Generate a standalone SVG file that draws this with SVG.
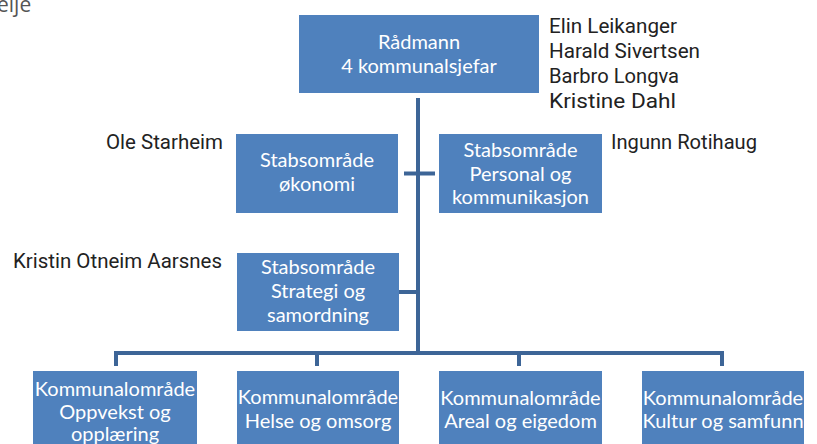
<svg xmlns="http://www.w3.org/2000/svg" width="817" height="444" viewBox="0 0 817 444">
<style>
.box{fill:#4f81bd;}
.bt{font-family:Lato,"Open Sans",sans-serif;font-size:20px;fill:#ffffff;text-anchor:middle;}
.nm{font-family:Roboto,"Liberation Sans",sans-serif;font-size:21px;fill:#222222;}
.ln{stroke:#3d6597;stroke-width:4;fill:none;}
</style>
<rect width="817" height="444" fill="#ffffff"/>
<text x="-3" y="12" style="font-family:'Open Sans',sans-serif;font-size:21px;fill:#555555;">elje</text>
<g id="connectors">
<line class="ln" x1="418" y1="98" x2="418" y2="355"/>
<line class="ln" x1="404" y1="173.5" x2="435" y2="173.5"/>
<line class="ln" x1="399" y1="292" x2="418" y2="292"/>
<polyline class="ln" points="116,366 116,353 722,353 722,366"/>
<line class="ln" x1="317" y1="353" x2="317" y2="366"/>
<line class="ln" x1="519" y1="353" x2="519" y2="366"/>
</g>
<g id="radmann">
<rect class="box" x="299" y="15" width="240" height="78"/>
<text class="bt" x="419" y="49">Rådmann</text>
<text class="bt" x="419" y="73">4 kommunalsjefar</text>
</g>
<g id="okonomi">
<rect class="box" x="236" y="134" width="162" height="79"/>
<text class="bt" x="317" y="167">Stabsområde</text>
<text class="bt" x="317" y="191">økonomi</text>
</g>
<g id="personal">
<rect class="box" x="439" y="134" width="163" height="79"/>
<text class="bt" x="520.5" y="157">Stabsområde</text>
<text class="bt" x="520.5" y="181">Personal og</text>
<text class="bt" x="520.5" y="204">kommunikasjon</text>
</g>
<g id="strategi">
<rect class="box" x="237" y="253" width="162" height="78"/>
<text class="bt" x="318" y="274">Stabsområde</text>
<text class="bt" x="318" y="298">Strategi og</text>
<text class="bt" x="318" y="322">samordning</text>
</g>
<g id="oppvekst">
<rect class="box" x="33" y="371" width="164" height="80"/>
<text class="bt" x="115" y="396">Kommunalområde</text>
<text class="bt" x="115" y="419">Oppvekst og</text>
<text class="bt" x="115" y="441">opplæring</text>
</g>
<g id="helse">
<rect class="box" x="237" y="371" width="162" height="80"/>
<text class="bt" x="318" y="404">Kommunalområde</text>
<text class="bt" x="318" y="428">Helse og omsorg</text>
</g>
<g id="areal">
<rect class="box" x="439" y="371" width="163" height="80"/>
<text class="bt" x="520.5" y="405">Kommunalområde</text>
<text class="bt" x="520.5" y="428">Areal og eigedom</text>
</g>
<g id="kultur">
<rect class="box" x="642" y="371" width="162" height="80"/>
<text class="bt" x="723" y="405">Kommunalområde</text>
<text class="bt" x="723" y="428">Kultur og samfunn</text>
</g>
<g id="names">
<text class="nm" x="549" y="33" textLength="128" lengthAdjust="spacingAndGlyphs">Elin Leikanger</text>
<text class="nm" x="549" y="58" textLength="151" lengthAdjust="spacingAndGlyphs">Harald Sivertsen</text>
<text class="nm" x="549" y="83" textLength="130" lengthAdjust="spacingAndGlyphs">Barbro Longva</text>
<text class="nm" x="549" y="108" textLength="127" lengthAdjust="spacingAndGlyphs">Kristine Dahl</text>
<text class="nm" x="106" y="149" textLength="117" lengthAdjust="spacingAndGlyphs">Ole Starheim</text>
<text class="nm" x="611" y="149" textLength="146" lengthAdjust="spacingAndGlyphs">Ingunn Rotihaug</text>
<text class="nm" x="13" y="268" textLength="209" lengthAdjust="spacingAndGlyphs">Kristin Otneim Aarsnes</text>
</g>
</svg>
